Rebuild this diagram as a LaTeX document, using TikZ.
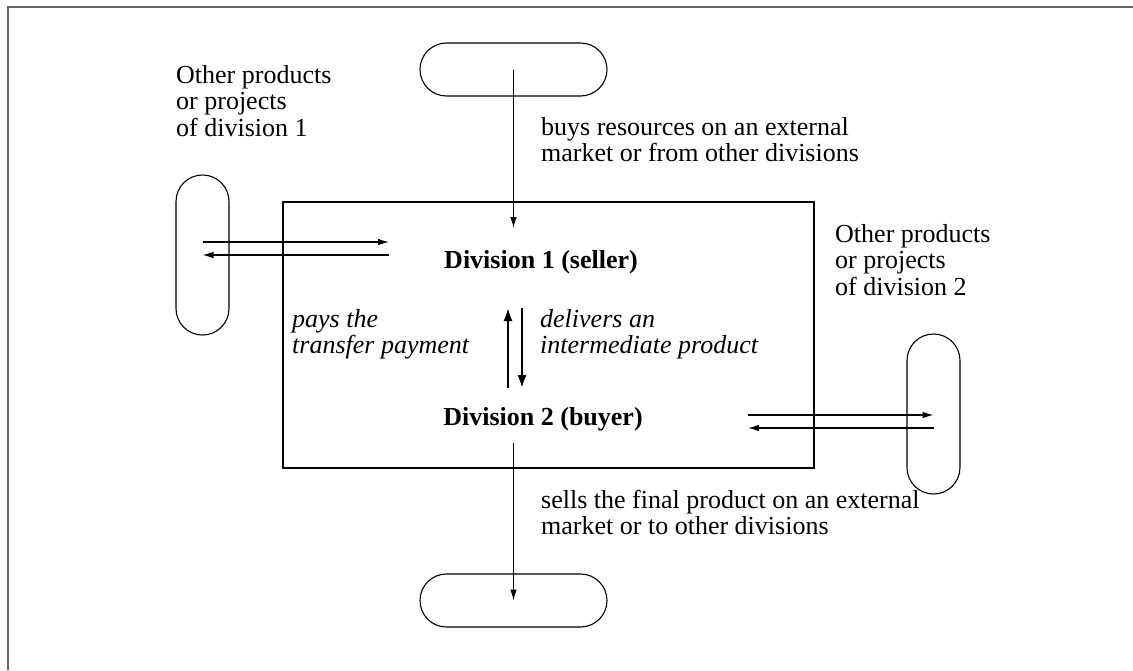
\documentclass[tikz,border=0pt]{standalone}
\usepackage{fontspec}
\setmainfont{Liberation Serif}
\usetikzlibrary{arrows.meta}
% left-aligned block of lines whose baseline is that of its first line
\newcommand\leftlines[1]{\begin{tabular}[t]{@{}l@{}}#1\end{tabular}}

\begin{document}
\begin{tikzpicture}[x=1pt,y=-1pt,
  pill/.style={draw, line width=1.1pt, rounded corners=26.5pt, inner sep=0pt},
  firmbox/.style={draw, line width=2pt, inner sep=0pt},
  flow/.style={line width=1.1pt, -{Latex[length=11pt,width=6.5pt]}},
  fatflow/.style={line width=2pt, -{Latex[length=13pt,width=9pt]}},
  txt/.style={inner sep=0pt, anchor=base west, font=\fontsize{26}{26.5}\selectfont},
  itxt/.style={txt, font=\fontsize{26}{26.5}\selectfont\itshape},
  divname/.style={inner sep=0pt, anchor=base, font=\fontsize{26}{26.5}\selectfont\bfseries}]

\useasboundingbox (0,0) rectangle (1133,670);

% page frame (top and left edges only)
\draw[black!60, line width=2pt] (8,670) -- (8,7) -- (1133,7);

% the firm
\node[firmbox, minimum width=531pt, minimum height=266pt] (firm) at (548.5,335) {};

% markets and other products
\node[pill, minimum width=187pt, minimum height=53pt] (supply) at (513.5,69.5) {};
\node[pill, minimum width=187pt, minimum height=53pt] (market) at (513.5,600.5) {};
\node[pill, minimum width=53pt, minimum height=160pt] (others1) at (202.5,255) {};
\node[pill, minimum width=53pt, minimum height=160pt] (others2) at (933.5,414) {};

% divisions
\node[divname] (div1) at (541,268) {Division 1 (seller)};
\node[divname] (div2) at (543,425) {Division 2 (buyer)};

% connector ports of the divisions
\coordinate (d1in)   at (513.5,228);
\coordinate (d1port) at (389,255);
\coordinate (d2port) at (748,414);
\coordinate (d2out)  at (513.5,443);
\coordinate (midtop) at (515,308);
\coordinate (midbot) at (515,388);

% flows
\draw[flow] (supply.center) -- (d1in);
\draw[flow] (d2out) -- (market.center);
\draw[flow] ([yshift=13pt]others1.center) -- ([yshift=13pt]d1port);
\draw[flow] (d1port) -- (others1.center);
\draw[flow] ([yshift=-1pt]d2port) -- ([yshift=-1pt]others2.center);
\draw[flow] ([yshift=-14pt]others2.center) -- ([yshift=-14pt]d2port);
\draw[fatflow] ([xshift=-7pt]midbot) -- ([xshift=-7pt]midtop);
\draw[fatflow] ([xshift=7pt]midtop) -- ([xshift=7pt]midbot);

% labels
\node[txt] (lbl1) at (176,83) {\leftlines{Other products\\or projects\\of division 1}};
\node[txt] (lbl2) at (835,242) {\leftlines{Other products\\or projects\\of division 2}};
\node[txt] (buys) at (541,135) {\leftlines{buys resources on an external\\market or from other divisions}};
\node[txt] (sells) at (541,508) {\leftlines{sells the final product on an external\\market or to other divisions}};
\node[itxt] (pays) at (292,327) {\leftlines{pays the\\transfer payment}};
\node[itxt] (delivers) at (540,327) {\leftlines{delivers an\\intermediate product}};

\end{tikzpicture}
\end{document}
